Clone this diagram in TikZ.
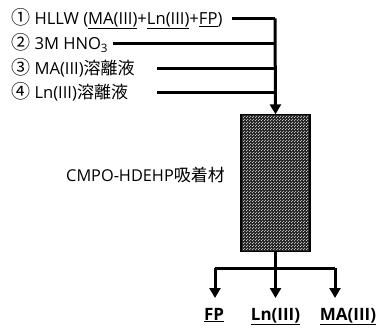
\documentclass[tikz,border=0pt]{standalone}
\usepackage{fontspec}
\setmainfont{Open Sans}
\newfontfamily\cjk{Noto Sans CJK JP}
\newcommand{\circnum}[1]{{\cjk\fontsize{19}{20}\selectfont #1}}
\newcommand{\jp}[1]{{\cjk\fontsize{17}{18}\selectfont #1}}
\usetikzlibrary{arrows.meta,patterns.meta}
\tikzdeclarepattern{name=wdots,type=uncolored,
  bounding box={(0,0) and (3pt,3pt)},tile size={(3pt,3pt)},
  code={\fill (0.75pt,0.75pt) circle (0.65pt); \fill (2.25pt,2.25pt) circle (0.65pt);}}
\begin{document}
\begin{tikzpicture}[x=1pt,y=-1pt,
  flow/.style={line width=3pt},
  arr/.style={line width=3pt,-{Triangle[width=11pt,length=10pt]}},
  lbl/.style={anchor=base west,inner sep=0pt,font=\fontsize{16.6}{18}\selectfont},
  outl/.style={anchor=base,inner sep=0pt,font=\fontsize{17}{20}\selectfont\bfseries}]
\useasboundingbox (0,0) rectangle (380,327);
\node[lbl] (t1) at (11,24.5) {\circnum{①} HLLW (\underline{MA(III)}+\underline{Ln(III)}+\underline{FP})};
\node[lbl] (t2) at (11,49.5) {\circnum{②} 3M HNO\textsubscript{3}};
\node[lbl] (t3) at (11,74) {\circnum{③} MA(III)\jp{溶離液}};
\node[lbl] (t4) at (11,98.5) {\circnum{④} Ln(III)\jp{溶離液}};
\node[anchor=base east,inner sep=0pt,font=\fontsize{16.3}{18}\selectfont] (lab) at (225,181) {CMPO-HDEHP{\cjk\fontsize{17}{18}\selectfont 吸着材}};
\coordinate (s1) at (232,18.3);
\coordinate (s2) at (113,43.3);
\coordinate (s3) at (157,68);
\coordinate (s4) at (157,92.7);
\coordinate (v1) at (275,18.3);
\coordinate (v2) at (275,43.3);
\coordinate (v3) at (275,68);
\coordinate (v4) at (275,92.7);
\node[inner sep=0pt,minimum width=69pt,minimum height=137pt] (col) at (275.5,183) {};
\fill[black!85] (col.south west) rectangle (col.north east);
\fill[pattern=wdots,pattern color=white] (col.south west) rectangle (col.north east);
\draw[line width=1.5pt] (col.south west) rectangle (col.north east);
\draw[flow] (s1) -- (v1);
\draw[arr] (v1) -- (col.north);
\draw[flow] (s2) -- (v2);
\draw[flow] (s3) -- (v3);
\draw[flow] (s4) -- (v4);
\coordinate (j) at (275.5,268);
\coordinate (jl) at (215,268);
\coordinate (jr) at (335,268);
\draw[flow] (col.south) -- (j);
\draw[flow] (jl) -- (jr);
\node[outl] (o1) at (214,320) {\underline{FP}};
\node[outl] (o2) at (275.5,320) {\underline{Ln(III)}};
\node[outl] (o3) at (348,320) {\underline{MA(III)}};
\draw[arr] (jl) -- (215,298);
\draw[arr] (j) -- (275.5,298);
\draw[arr] (jr) -- (335,298);
\end{tikzpicture}
\end{document}
